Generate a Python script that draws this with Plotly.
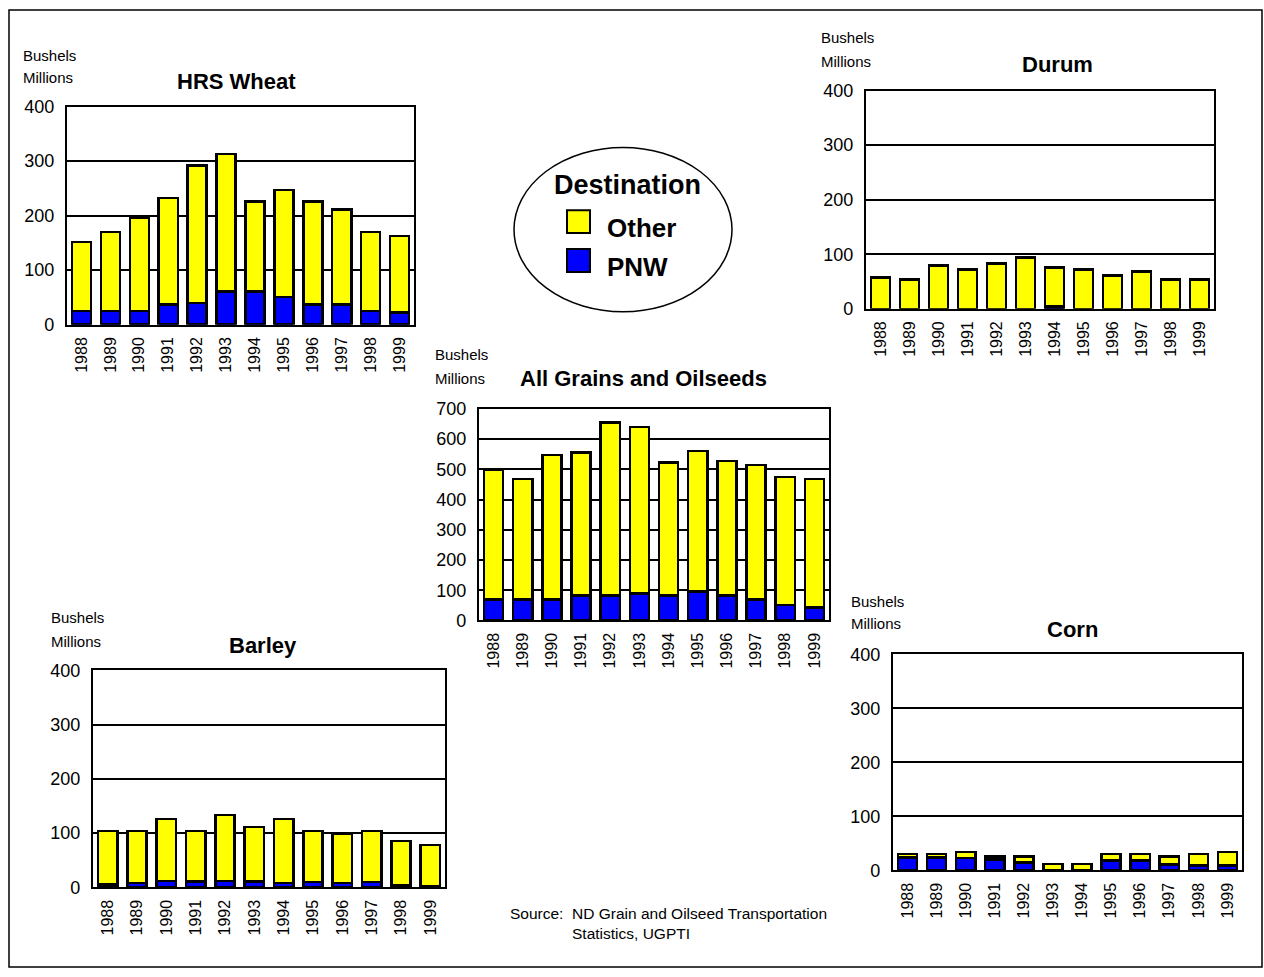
import plotly.graph_objects as go

W, H = 1264, 977

years = ["1988", "1989", "1990", "1991", "1992", "1993",
         "1994", "1995", "1996", "1997", "1998", "1999"]

hrs_pnw = [25, 25, 25, 37, 40, 61, 61, 51, 37, 37, 25, 22]
hrs_other = [127, 145, 172, 195, 252, 252, 165, 196, 189, 174, 145, 141]

durum_pnw = [0, 0, 0, 0, 0, 0, 4, 0, 0, 0, 0, 0]
durum_other = [57, 54, 79, 72, 83, 94, 72, 72, 61, 68, 54, 54]

all_pnw = [70, 70, 70, 83, 83, 89, 83, 96, 83, 70, 51, 43]
all_other = [428, 398, 477, 472, 571, 551, 439, 465, 445, 445, 424, 425]

barley_pnw = [5, 8, 12, 11, 12, 11, 8, 10, 8, 10, 4, 2]
barley_other = [99, 96, 114, 93, 121, 100, 118, 94, 91, 94, 81, 76]

corn_pnw = [24, 24, 23, 20, 15, 1, 1, 18, 18, 11, 9, 9]
corn_other = [6, 6, 11, 6, 11, 11, 11, 12, 12, 15, 21, 25]

FONT = "Liberation Sans, Arial, sans-serif"
YELLOW = "#FFFF00"
BLUE = "#0000FF"


def X(px):
    return px / W


def Y(py):
    # the rendered figure occupies screen rows 8..969
    return 1 - (py - 8.0) / 961.0


# panel: (title, pnw, other, ymax, plot box px (x0, x1, y0, y1), title center px, bushels left px, bushels y px, millions y px)
panels = [
    ("HRS Wheat", hrs_pnw, hrs_other, 400, (67, 414, 105, 324), (236, 80), 21, 54, 76),
    ("Durum", durum_pnw, durum_other, 400, (866, 1214, 89, 308), (1057, 63), 819, 36, 60),
    ("All Grains and Oilseeds", all_pnw, all_other, 700, (479, 829, 408.5, 621), (643, 378), 433, 354, 378),
    ("Barley", barley_pnw, barley_other, 400, (93, 445, 671, 889), (263, 646), 49, 618, 642),
    ("Corn", corn_pnw, corn_other, 400, (893, 1242, 655, 872), (1072, 630), 849, 602, 624),
]

fig = go.Figure()
annotations = []
shapes = []

for i, (title, pnw, other, ymax, box, tpos, bx, by, my) in enumerate(panels):
    n = "" if i == 0 else str(i + 1)
    xa, ya = "x" + n, "y" + n
    fig.add_trace(go.Bar(x=years, y=pnw, name="PNW", xaxis=xa, yaxis=ya,
                         marker=dict(color=BLUE, line=dict(color="black", width=2.5)),
                         showlegend=False))
    fig.add_trace(go.Bar(x=years, y=other, name="Other", xaxis=xa, yaxis=ya,
                         marker=dict(color=YELLOW, line=dict(color="black", width=2.5)),
                         showlegend=False))
    x0, x1, y0, y1 = box
    fig.layout["xaxis" + n] = dict(
        domain=[X(x0), X(x1)], anchor=ya, type="category",
        showline=True, linecolor="black", linewidth=2.2, mirror=True,
        showgrid=False, zeroline=False, ticks="", tickangle=-90,
        ticklabelstandoff=4,
        tickfont=dict(family=FONT, size=16, color="black"), fixedrange=True)
    fig.layout["yaxis" + n] = dict(
        domain=[Y(y1), Y(y0)], anchor=xa, range=[0, ymax], dtick=100,
        showline=True, linecolor="black", linewidth=2.2, mirror=True,
        showgrid=True, gridcolor="black", gridwidth=1.8, zeroline=False,
        ticks="", ticklabelstandoff=7,
        tickfont=dict(family=FONT, size=18, color="black"), fixedrange=True)
    annotations.append(dict(text="<b>" + title + "</b>", x=X(tpos[0]), y=Y(tpos[1]),
                            xref="paper", yref="paper", xanchor="center", yanchor="middle",
                            showarrow=False, font=dict(family=FONT, size=22, color="black")))
    annotations.append(dict(text="Bushels", x=X(bx), y=Y(by), xref="paper", yref="paper",
                            xanchor="left", yanchor="middle", showarrow=False,
                            font=dict(family=FONT, size=15, color="black")))
    annotations.append(dict(text="Millions", x=X(bx), y=Y(my), xref="paper", yref="paper",
                            xanchor="left", yanchor="middle", showarrow=False,
                            font=dict(family=FONT, size=15, color="black")))

# Legend ellipse
shapes.append(dict(type="circle", xref="paper", yref="paper",
                   x0=X(514), x1=X(732), y0=Y(311), y1=Y(146),
                   line=dict(color="black", width=1.5), fillcolor="white", layer="below"))
shapes.append(dict(type="rect", xref="paper", yref="paper",
                   x0=X(567), x1=X(590), y0=Y(232), y1=Y(209),
                   line=dict(color="black", width=2), fillcolor=YELLOW))
shapes.append(dict(type="rect", xref="paper", yref="paper",
                   x0=X(567), x1=X(590), y0=Y(271), y1=Y(248),
                   line=dict(color="black", width=2), fillcolor=BLUE))
annotations.append(dict(text="<b>Destination</b>", x=X(627), y=Y(184), xref="paper", yref="paper",
                        xanchor="center", yanchor="middle", showarrow=False,
                        font=dict(family=FONT, size=27, color="black")))
annotations.append(dict(text="<b>Other</b>", x=X(605), y=Y(227), xref="paper", yref="paper",
                        xanchor="left", yanchor="middle", showarrow=False,
                        font=dict(family=FONT, size=26, color="black")))
annotations.append(dict(text="<b>PNW</b>", x=X(605), y=Y(266), xref="paper", yref="paper",
                        xanchor="left", yanchor="middle", showarrow=False,
                        font=dict(family=FONT, size=26, color="black")))

# Source
annotations.append(dict(text="Source:", x=X(508), y=Y(915), xref="paper", yref="paper",
                        xanchor="left", yanchor="middle", showarrow=False,
                        font=dict(family=FONT, size=15.5, color="black")))
annotations.append(dict(text="ND Grain and Oilseed Transportation<br>Statistics, UGPTI",
                        x=X(570), y=Y(925), xref="paper", yref="paper",
                        xanchor="left", yanchor="middle", align="left", showarrow=False,
                        font=dict(family=FONT, size=15.5, color="black")))

# Outer frame
shapes.append(dict(type="rect", xref="paper", yref="paper",
                   x0=X(9), x1=X(1262), y0=Y(969), y1=Y(8),
                   line=dict(color="black", width=1.5), fillcolor="rgba(0,0,0,0)", layer="below"))

fig.update_layout(
    width=W, height=H, margin=dict(l=0, r=0, t=0, b=0),
    paper_bgcolor="white", plot_bgcolor="white",
    barmode="stack", bargap=0.34, showlegend=False,
    annotations=annotations, shapes=shapes,
    font=dict(family=FONT, color="black"),
)

fig.write_html("out.html")
